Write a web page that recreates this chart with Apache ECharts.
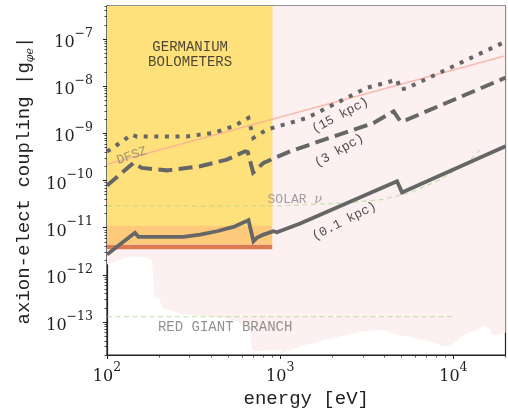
<!DOCTYPE html>
<html><head><meta charset="utf-8">
<script src="https://cdn.jsdelivr.net/npm/echarts@6/dist/echarts.min.js"></script>
<style>html,body{margin:0;padding:0;background:#fff}#c{width:508px;height:415px}</style>
</head><body><div id="c"></div>
<script>
// ---- axis ranges & ticks ----
const xMin = 100, xMax = 20000;
const yMin = 2e-14, yMax = 5e-7;
const xMajorTicks = [100, 1000, 10000];
const yMajorTicks = [1e-13, 1e-12, 1e-11, 1e-10, 1e-9, 1e-8, 1e-7];

// ---- excluded / sensitivity regions ----
const pinkE = [100, 119, 141, 166, 182, 186, 187, 202, 207, 276, 470, 642, 671, 686, 717, 1000, 1023, 1426, 2223, 3031, 3954, 4727, 5895, 7363, 8790, 9610, 10740, 11480, 13720, 15110, 15990, 16740, 17890, 20000];
const pinkG = [1.65e-12, 2.11e-12, 2.48e-12, 2.33e-12, 2.11e-12, 2.01e-12, 3.52e-13, 3.0e-13, 2.0e-13, 1.44e-13, 1.23e-13, 8.85e-14, 6.9e-14, 2.6e-14, 2.4e-14, 2.6e-14, 2.22e-14, 3.33e-14, 5.0e-14, 6.4e-14, 6.9e-14, 5.4e-14, 4.6e-14, 3.9e-14, 3.07e-14, 3.07e-14, 4.26e-14, 5.4e-14, 6.9e-14, 8.4e-14, 7.5e-14, 5.4e-14, 5.4e-14, 5.9e-14];
const geE = [100, 900];
const geYellowBottom = [1.1e-11, 1.1e-11];
const geOrangeBottom = [4.4e-12, 4.4e-12];
const geLimit = [3.9e-12, 3.9e-12];

// ---- reference lines ----
const dfszE = [100, 20000];
const dfszG = [2.2e-10, 4.4e-8];
const solarE = [100, 1000, 1500, 2540, 3950, 5640, 8410, 12000, 14650];
const solarG = [2.85e-11, 2.9e-11, 3.1e-11, 3.4e-11, 4.0e-11, 5.5e-11, 1.04e-10, 2.36e-10, 4.9e-10];
const rgbE = [100, 10000];
const rgbG = [1.3e-13, 1.3e-13];

// ---- projected sensitivity curves ----
const e15 = [100, 119, 139, 149, 162, 289, 411, 537, 655, 700, 838, 1426, 3160, 4730, 4940, 5400, 20000];
const g15 = [4.1e-10, 6.26e-10, 9.4e-10, 8.5e-10, 8.6e-10, 8.6e-10, 1.02e-9, 1.41e-9, 2.12e-9, 8.0e-10, 1.2e-9, 2.12e-9, 9.2e-9, 1.37e-8, 8.4e-9, 9.1e-9, 8.8e-8];
const e3 = [100, 142, 159, 221, 345, 492, 628, 650, 698, 801, 1143, 3459, 4520, 4940, 5400, 20000];
const g3 = [7.8e-11, 2.36e-10, 1.85e-10, 1.64e-10, 2.0e-10, 2.77e-10, 4.16e-10, 4.0e-10, 1.47e-10, 2.36e-10, 4.16e-10, 1.66e-9, 2.92e-9, 1.8e-9, 1.95e-9, 1.51e-8];
const e01 = [100, 145, 152, 207, 211, 276, 345, 431, 537, 656, 701, 733, 801, 914, 957, 1305, 4730, 5050, 20000];
const g01 = [2.69e-12, 7.76e-12, 6.38e-12, 6.38e-12, 5.8e-12, 6.38e-12, 7.14e-12, 8.4e-12, 1.04e-11, 1.44e-11, 5.15e-12, 6.08e-12, 7.14e-12, 8.4e-12, 8.0e-12, 1.22e-11, 9.6e-11, 5.6e-11, 5.3e-10];

// ---- text annotations ----
const annoText = ['GERMANIUM\nBOLOMETERS', 'DFSZ', '(15 kpc)', '(3 kpc)', '(0.1 kpc)', 'SOLAR {nu|\u03bd}', 'RED GIANT BRANCH'];

const pairs = (xs, ys) => xs.map((x, i) => [x, ys[i]]);
const xMinor = [], yMinor = [];
for (let p = 2; p <= 4; p++) for (let m = 2; m <= 9; m++) { const v = m * Math.pow(10, p); if (v <= xMax) xMinor.push(v); }
for (let p = -14; p <= -7; p++) for (let m = 2; m <= 9; m++) { const v = m * Math.pow(10, p); if (v >= yMin && v <= yMax) yMinor.push(v); }

function powLabel(v) {
  const e = Math.round(Math.log10(v));
  return '{b|10}{s|' + (e < 0 ? '\u2212' + (-e) : e) + '}';
}
const richTick = {
  b: { fontFamily: 'DejaVu Serif', fontSize: 16, color: '#222', lineHeight: 24, verticalAlign: 'bottom' },
  s: { fontFamily: 'DejaVu Serif', fontSize: 12.5, color: '#222', lineHeight: 12, verticalAlign: 'top' }
};
const MONO = 'Liberation Mono';
const ink = '#222';

const chart = echarts.init(document.getElementById('c'), null, { renderer: 'canvas' });

function area(data, color, z) {
  return { type: 'line', data, symbol: 'none', silent: true, z, lineStyle: { width: 0 },
    areaStyle: { color, opacity: 1, origin: 'end' }, animation: false };
}
function curve(data, color, width, type, z, opacity) {
  return { type: 'line', data, symbol: 'none', silent: true, z,
    lineStyle: { color, width, type, cap: 'butt', join: 'miter', opacity: opacity == null ? 1 : opacity }, animation: false };
}

const annoPos = [[302, 4.6e-8], [139, 3.37e-10], [2223, 2.4e-9], [2193, 4.3e-10], [2344, 1.37e-11], [1216, 3.94e-11], [481, 7.65e-14]];
const annoStyle = [
  { fontSize: 14, color: ink, rotate: 0, lineHeight: 15 },
  { fontSize: 13, color: '#8a8070', rotate: 19 },
  { fontSize: 13, color: ink, rotate: 28 },
  { fontSize: 13, color: ink, rotate: 30 },
  { fontSize: 13, color: ink, rotate: 27 },
  { fontSize: 13, color: '#888', rotate: 0 },
  { fontSize: 14, color: '#777', rotate: 0 }
];

const option = {
  animation: false,
  grid: { left: 107, right: 2.5, top: 6, bottom: 60, show: true, borderColor: ink, borderWidth: 1.2, backgroundColor: 'transparent' },
  xAxis: [
    { type: 'log', logBase: 10, min: xMin, max: xMax, position: 'bottom',
      name: 'energy [eV]', nameLocation: 'middle', nameGap: 32,
      nameTextStyle: { fontFamily: MONO, fontSize: 19, color: ink },
      axisLine: { show: true, lineStyle: { color: ink, width: 1.2 } },
      axisTick: { show: true, length: 4, lineStyle: { color: ink, width: 1 }, customValues: xMajorTicks },
      axisLabel: { margin: 6, formatter: powLabel, rich: richTick, customValues: xMajorTicks },
      splitLine: { show: false }, minorTick: { show: false } },
    { type: 'log', logBase: 10, min: xMin, max: xMax, position: 'bottom', gridIndex: 0,
      axisLine: { show: false }, axisLabel: { show: false }, splitLine: { show: false },
      axisTick: { show: true, length: 2.5, lineStyle: { color: ink, width: 0.8 }, customValues: xMinor } }
  ],
  yAxis: [
    { type: 'log', logBase: 10, min: yMin, max: yMax, position: 'left',
      name: 'axion-elect coupling |g{sub|\u03c6e}|', nameLocation: 'middle', nameGap: 70, nameRotate: 90,
      nameTextStyle: { fontFamily: MONO, fontSize: 19, color: ink, lineHeight: 22,
        rich: { sub: { fontFamily: 'DejaVu Serif', fontStyle: 'italic', fontSize: 11, color: ink, lineHeight: 11, verticalAlign: 'bottom' } } },
      axisLine: { show: true, lineStyle: { color: ink, width: 1.2 } },
      axisTick: { show: true, length: 4, lineStyle: { color: ink, width: 1 }, customValues: yMajorTicks },
      axisLabel: { margin: 14, formatter: powLabel, rich: richTick, customValues: yMajorTicks },
      splitLine: { show: false }, minorTick: { show: false } },
    { type: 'log', logBase: 10, min: yMin, max: yMax, position: 'left', gridIndex: 0,
      axisLine: { show: false }, axisLabel: { show: false }, splitLine: { show: false },
      axisTick: { show: true, length: 2.5, lineStyle: { color: ink, width: 0.8 }, customValues: yMinor } }
  ],
  series: [
    area(pairs(pinkE, pinkG), '#fdf0f0', 1),
    area(pairs(geE, geOrangeBottom), '#fdc97b', 2),
    area(pairs(geE, geYellowBottom), '#fee17b', 3),
    curve(pairs(geE, geLimit), '#de7a50', 4.5, 'solid', 4),
    curve(pairs(dfszE, dfszG), '#f7a89a', 1.6, 'solid', 5, 0.75),
    curve(pairs(solarE, solarG), '#a9d58e', 1.3, [5, 3.5], 5, 0.6),
    curve(pairs(rgbE, rgbG), '#a9d58e', 1.3, [5, 3.5], 5, 0.6),
    curve(pairs(e15, g15), '#666', 4, [4, 6.6], 6),
    curve(pairs(e3, g3), '#666', 4, [14, 6.4], 6),
    curve(pairs(e01, g01), '#666', 3.8, 'solid', 6),
    { type: 'scatter', symbolSize: 1, itemStyle: { color: 'rgba(0,0,0,0)' }, silent: true, z: 10,
      data: annoPos.map((p, i) => ({ value: p, label: Object.assign({ show: true, position: 'inside', formatter: annoText[i],
        fontFamily: MONO, align: 'center', verticalAlign: 'middle',
        rich: { nu: { fontFamily: 'DejaVu Serif', fontStyle: 'italic', fontSize: 13, color: '#888' } } }, annoStyle[i]) })) }
  ]
};
chart.setOption(option);
</script></body></html>
